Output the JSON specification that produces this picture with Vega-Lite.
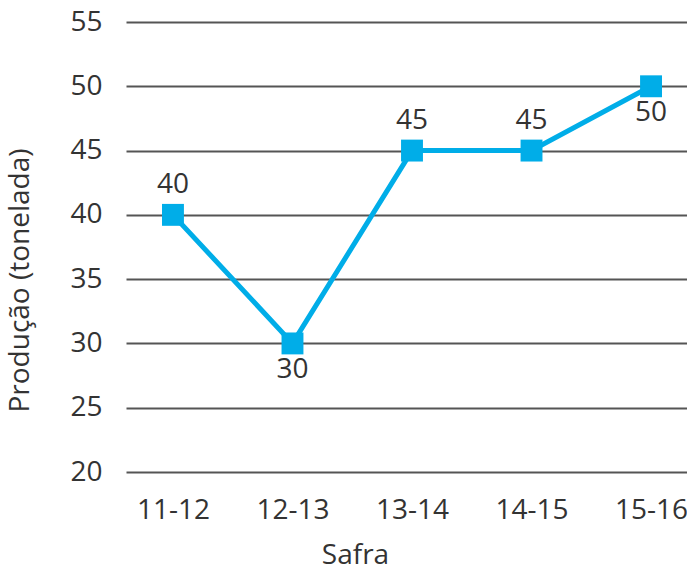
{
  "$schema": "https://vega.github.io/schema/vega-lite/v6.json",
  "autosize": "none",
  "padding": {"left": 126, "top": 22, "right": 0, "bottom": 106},
  "width": 572,
  "height": 450,
  "background": "white",
  "config": {
    "font": "Open Sans",
    "view": {"stroke": null},
    "axis": {
      "labelFont": "Open Sans",
      "labelFontSize": 28,
      "labelColor": "#333333",
      "titleFont": "Open Sans",
      "titleFontSize": 28,
      "titleFontWeight": "normal",
      "titleColor": "#333333",
      "domain": false,
      "ticks": false
    }
  },
  "data": {
    "values": [
      {"Safra": "11-12", "Producao": 40, "pos": "above"},
      {"Safra": "12-13", "Producao": 30, "pos": "below"},
      {"Safra": "13-14", "Producao": 45, "pos": "above"},
      {"Safra": "14-15", "Producao": 45, "pos": "above"},
      {"Safra": "15-16", "Producao": 50, "pos": "below"}
    ]
  },
  "encoding": {
    "x": {
      "field": "Safra",
      "type": "ordinal",
      "scale": {"type": "point", "padding": 0.393},
      "axis": {
        "title": "Safra",
        "labelAngle": 0,
        "labelPadding": 24,
        "grid": false,
        "titleX": 229,
        "titleY": 83,
        "titleBaseline": "middle"
      }
    },
    "y": {
      "field": "Producao",
      "type": "quantitative",
      "scale": {"domain": [20, 55], "nice": false, "zero": false},
      "axis": {
        "title": "Produção (tonelada)",
        "values": [20, 25, 30, 35, 40, 45, 50, 55],
        "labelPadding": 24,
        "grid": true,
        "gridColor": "#555555",
        "gridWidth": 2,
        "titleX": -106,
        "titleY": 258,
        "titleAngle": -90,
        "titleBaseline": "middle",
        "titleAlign": "center"
      }
    }
  },
  "layer": [
    {
      "mark": {"type": "line", "color": "#00ADE8", "strokeWidth": 5}
    },
    {
      "mark": {"type": "point", "shape": "square", "filled": true, "opacity": 1, "color": "#00ADE8", "size": 480}
    },
    {
      "transform": [{"filter": "datum.pos === 'above'"}],
      "mark": {"type": "text", "font": "Open Sans", "fontSize": 28, "color": "#333333", "dy": -30},
      "encoding": {"text": {"field": "Producao"}}
    },
    {
      "transform": [{"filter": "datum.pos === 'below'"}],
      "mark": {"type": "text", "font": "Open Sans", "fontSize": 28, "color": "#333333", "dy": 27},
      "encoding": {"text": {"field": "Producao"}}
    }
  ]
}
